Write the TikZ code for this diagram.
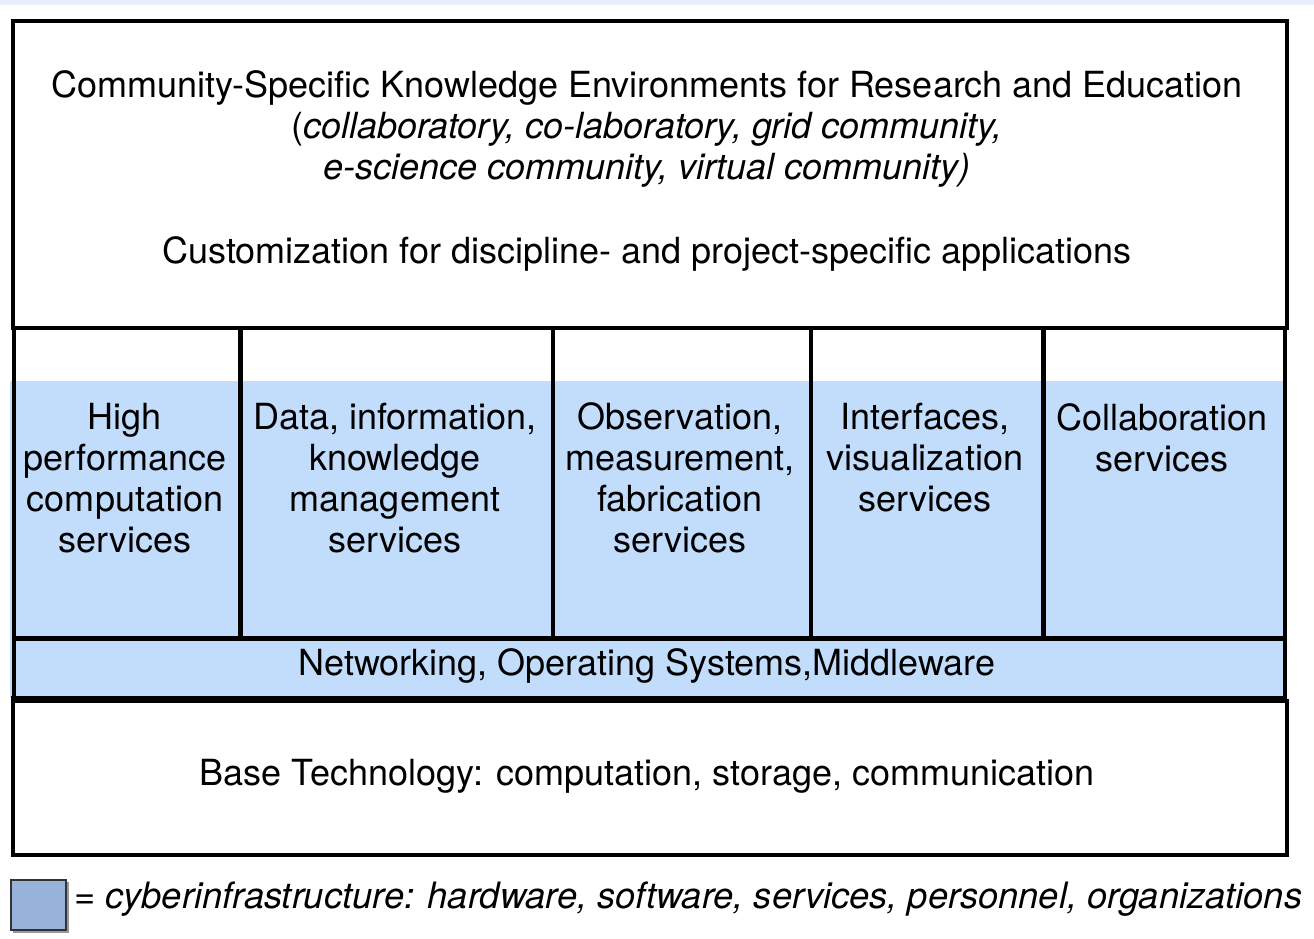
\documentclass[tikz,border=0pt]{standalone}
\usepackage{fontspec}
\setmainfont{TeX Gyre Heros}
\definecolor{ciblue}{HTML}{C2DCFC}
\definecolor{legblue}{HTML}{97B3DA}
\definecolor{topband}{HTML}{E8F1FB}
\begin{document}
\begin{tikzpicture}[x=1pt,y=-1pt,line join=miter,
  txt/.style={font=\fontsize{36}{40.7}\selectfont, align=center, inner sep=0pt, anchor=base},
  frame/.style={draw=black, line width=4pt, inner sep=0pt, anchor=north west},
  rule/.style={draw=black, line width=4pt}]
\useasboundingbox (0,0) rectangle (1314,938);
\fill[topband] (0,0) rectangle (1314,5);
% blue cyberinfrastructure area
\fill[ciblue] (10,381) rectangle (1285,698);
% boxes
\node[frame, minimum width=1274pt, minimum height=306.5pt] (top) at (11,19) {};
\node[frame, minimum width=1274pt, minimum height=154pt] (base) at (11,699) {};
% middle frame
\coordinate (ml) at (13.5,325.5);
\coordinate (mr) at (1284.5,325.5);
\draw[rule] (ml) -- (13.5,699);
\draw[rule] (mr) -- (1284.5,699);
\foreach \x in {240.5,553,811,1043.5}{\draw[rule, line width=4.5pt] (\x,325.5) -- (\x,638);}
\draw[rule, line width=5pt] (13.5,638) -- (1284.5,638);
\draw[rule, line width=6pt] (11,699) -- (1285,699);
% texts (base anchor = baseline of last line)
\node[txt] (t1) at (647,179) {Community-Specific Knowledge Environments for Research and Education\\
(\textit{collaboratory, co-laboratory, grid community,}\\
\textit{e-science community, virtual community)}};
\node[txt] (cust) at (647,263) {Customization for discipline- and project-specific applications};
\node[txt] (c1) at (125,552) {High\\performance\\computation\\services};
\node[txt] (c2) at (395,552) {Data, information,\\knowledge\\management\\services};
\node[txt] (c3) at (680,552) {Observation,\\measurement,\\fabrication\\services};
\node[txt] (c4) at (925,511) {Interfaces,\\visualization\\services};
\node[txt] (c5) at (1162,471) {Collaboration\\services};
\node[txt] (net) at (647,675) {Networking, Operating Systems,Middleware};
\node[txt] (bt) at (647,785) {Base Technology: computation, storage, communication};
% legend
\fill[black!40] (13,882) rectangle (69,933);
\node[draw=black!80, line width=2pt, fill=legblue, minimum width=55pt, minimum height=50pt, inner sep=0pt, anchor=north west] (leg) at (10,879) {};
\node[txt, anchor=base west, font=\fontsize{36.3}{40.7}\selectfont] (legt) at (74,908) {\textit{= cyberinfrastructure: hardware, software, services, personnel, organizations}};
\end{tikzpicture}
\end{document}
